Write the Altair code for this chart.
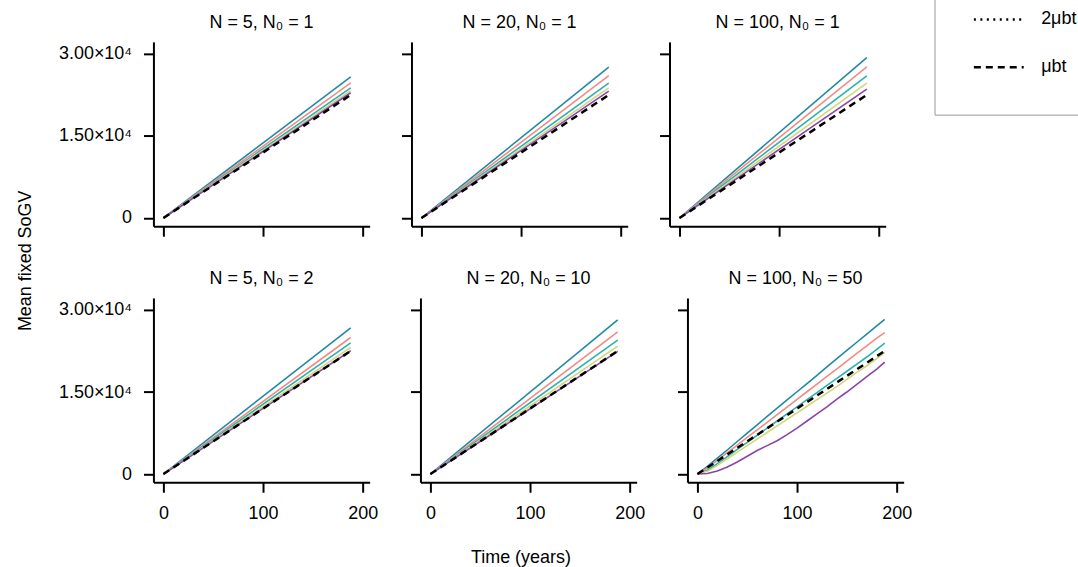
import altair as alt
import pandas as pd

# ---------------- data ----------------
panel_titles = ["N = 5, N₀ = 1", "N = 20, N₀ = 1", "N = 100, N₀ = 1",
                "N = 5, N₀ = 2", "N = 20, N₀ = 10", "N = 100, N₀ = 50"]
series_names = ["series 1", "series 2", "series 3", "series 4", "series 5"]
series_colors = ["#1f8aa6", "#f58a82", "#27b3af", "#d3d67a", "#8b44a8"]

# straight panels: value at start and end of the run
lin_time = [0, 188]
p1_end = [25800, 24700, 23800, 23300, 22900]
p2_end = [27570, 26050, 24650, 23800, 23190]
p3_end = [29340, 27640, 26000, 24660, 23560]
p4_end = [26730, 24970, 24000, 23150, 22550]
p5_end = [28180, 26000, 24480, 23390, 22420]

# curved panel (N = 100, N0 = 50)
curve_time = [0, 10, 20, 30, 40, 50, 60, 70, 80, 90, 100, 110, 120, 130, 140, 150, 160, 170, 180, 188]
p6_s1 = [0, 1400, 2900, 4400, 5950, 7500, 9000, 10550, 12050, 13550, 15050, 16550, 18050, 19600, 21100, 22600, 24100, 25600, 27100, 28300]
p6_s2 = [0, 1100, 2500, 3900, 5300, 6700, 8100, 9450, 10850, 12250, 13650, 15050, 16450, 17850, 19250, 20650, 22050, 23450, 24850, 25870]
p6_s3 = [0, 700, 1900, 3200, 4500, 5800, 7100, 8400, 9700, 11000, 12300, 13600, 14900, 16200, 17500, 18800, 20100, 21400, 22800, 23930]
p6_s4 = [0, 500, 1600, 2800, 4000, 5200, 6400, 7600, 8800, 10000, 11200, 12400, 13600, 14800, 16000, 17300, 18600, 19800, 21100, 22240]
p6_s5 = [0, 100, 550, 1300, 2200, 3250, 4300, 5200, 6100, 7200, 8400, 9700, 11000, 12300, 13700, 15000, 16400, 17800, 19200, 20480]

# reference line (mu*b*t)
ref_names = ["2μbt", "μbt"]
ref_time = [0, 188]
ref_value = [0, 22500]

x_ticks = [0, 100, 200]
y_ticks = [0, 15000, 30000]

# ---------------- tables ----------------
rows = []
for p, ends in enumerate([p1_end, p2_end, p3_end, p4_end, p5_end]):
    for s, e in zip(series_names, ends):
        rows.append(dict(panel=p, series=s, t=lin_time[0], v=0))
        rows.append(dict(panel=p, series=s, t=lin_time[1], v=e))
for s, vals in zip(series_names, [p6_s1, p6_s2, p6_s3, p6_s4, p6_s5]):
    for t, v in zip(curve_time, vals):
        rows.append(dict(panel=5, series=s, t=t, v=v))
lines = pd.DataFrame(rows)

ref_rows = []
for p in range(6):
    for t, v in zip(ref_time, ref_value):
        ref_rows.append(dict(panel=p, ref="μbt", t=t, v=v))
refs = pd.DataFrame(ref_rows)

FONT = "Liberation Sans"


def panel(i):
    show_x = i >= 3
    show_y = i % 3 == 0
    x = alt.X("t:Q", scale=alt.Scale(domain=[-10, 207], nice=False, zero=False),
              axis=alt.Axis(values=x_ticks, labels=show_x, title=None))
    y = alt.Y("v:Q", scale=alt.Scale(domain=[-1500, 32200], nice=False, zero=False),
              axis=alt.Axis(values=y_ticks, labels=show_y, title=None,
                            labelExpr="datum.value == 0 ? '0' : format(datum.value / 10000, '.2f') + '×10⁴'"))
    colored = alt.Chart(lines[lines.panel == i]).mark_line(strokeWidth=1.6, clip=True).encode(
        x=x, y=y,
        color=alt.Color("series:N", scale=alt.Scale(domain=series_names, range=series_colors), legend=None),
    )
    dashed = alt.Chart(refs[refs.panel == i]).mark_line(color="black", strokeWidth=2.5, clip=True).encode(
        x=x, y=y,
        strokeDash=alt.StrokeDash(
            "ref:N",
            scale=alt.Scale(domain=ref_names, range=[[2, 4.5], [7, 5]]),
            legend=alt.Legend(
                title=None, orient="none", legendX=784, legendY=-87,
                symbolType="stroke", symbolSize=2500, symbolStrokeWidth=2.5,
                symbolStrokeColor="black", symbolOffset=0,
                labelFontSize=18, labelFont=FONT, labelColor="black", labelOffset=16,
                padding=38, rowPadding=12, strokeColor="#999999",
            ),
        ),
    )
    return alt.layer(colored, dashed).properties(
        width=217, height=185,
        title=alt.TitleParams(panel_titles[i], fontSize=18, font=FONT, fontWeight="normal",
                              color="black", offset=10),
    )


row1 = alt.hconcat(panel(0), panel(1), panel(2), spacing=31)
row2 = alt.hconcat(panel(3), panel(4), panel(5), spacing=31)
grid = alt.vconcat(row1, row2, spacing=33,
                   title=alt.TitleParams("Time (years)", orient="bottom", anchor="middle",
                                         fontSize=18, font=FONT, fontWeight="normal",
                                         color="black", offset=27, dx=36))
chart = alt.hconcat(grid, title=alt.TitleParams("Mean fixed SoGV", orient="left", anchor="middle",
                                                fontSize=18, font=FONT, fontWeight="normal",
                                                color="black", offset=24))

chart = chart.properties(padding={"left": 16, "top": -47, "right": -38, "bottom": 0}).configure_view(
    stroke=None
).configure_axis(
    grid=False, domainColor="black", domainWidth=2, tickColor="black", tickWidth=2,
    tickSize=10, labelFontSize=18, labelFont=FONT, labelColor="black", labelPadding=12,
)

chart.save("out.html", embed_options={"renderer": "svg", "actions": False})
